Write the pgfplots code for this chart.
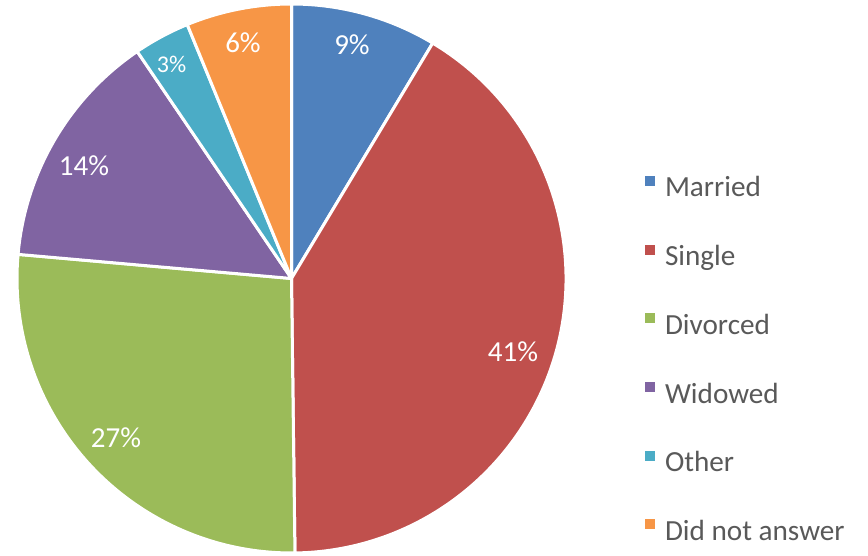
\documentclass[border=0pt]{standalone}
\usepackage{fontspec}
\setmainfont{Carlito}
\usepackage{pgfplots}
\usepackage{pgfplotstable}
\pgfplotsset{compat=1.18}
\definecolor{cMarried}{HTML}{4F81BD}
\definecolor{cSingle}{HTML}{C0504D}
\definecolor{cDivorced}{HTML}{9BBB59}
\definecolor{cWidowed}{HTML}{8064A2}
\definecolor{cOther}{HTML}{4BACC6}
\definecolor{cNoAnswer}{HTML}{F79646}
\definecolor{legtext}{HTML}{595959}
% value = share in percent, label = shown percent, lx/ly = label position
\pgfplotstableread{
name      value label lx    ly   lsize col
Married   8.6   9     352   511  14.5  cMarried
Single    41.2  41    513   204  14.5  cSingle
Divorced  26.6  27    116   118  14.5  cDivorced
Widowed   14.1  14    84    390  14.5  cWidowed
Other     3.3   3     171.5 492  12    cOther
NoAnswer  6.2   6     243   513  14.5  cNoAnswer
}\piedata
\begin{document}
\begin{tikzpicture}
\begin{axis}[
  hide axis, scale only axis, clip=false,
  x=0.5pt, y=0.5pt, xmin=0, xmax=868, ymin=0, ymax=556,
  legend style={at={(axis cs:645,380)}, anchor=north west, draw=none, fill=none,
    inner sep=0pt, outer sep=0pt, row sep=20.85pt,
    font=\fontsize{14.6pt}{17pt}\selectfont, text=legtext,
    nodes={text height=10pt, text depth=3pt, inner ysep=0pt, inner xsep=5pt}},
  legend cell align=left,
  legend image code/.code={\fill[#1, draw=none] (0pt,2pt) rectangle (5pt,7pt);},
]
\pgfplotsextra{
  \path (axis cs:0,0) rectangle (axis cs:868,556);
  \xdef\startangle{90}
  \pgfplotsforeachungrouped \i in {0,...,5} {
    \pgfplotstablegetelem{\i}{value}\of\piedata \let\val\pgfplotsretval
    \pgfplotstablegetelem{\i}{col}\of\piedata \let\col\pgfplotsretval
    \pgfmathsetmacro\endangle{\startangle - 3.6*\val}
    \fill[\col, draw=white, line width=1.5pt, line join=round]
      (axis cs:291.5,277.5) -- ++(\startangle:137.25pt)
      arc[start angle=\startangle, end angle=\endangle, radius=137.25pt] -- cycle;
    \xdef\startangle{\endangle}
  }
  \pgfplotsforeachungrouped \i in {0,...,5} {
    \pgfplotstablegetelem{\i}{label}\of\piedata \let\lab\pgfplotsretval
    \pgfplotstablegetelem{\i}{lx}\of\piedata \let\lx\pgfplotsretval
    \pgfplotstablegetelem{\i}{ly}\of\piedata \let\ly\pgfplotsretval
    \pgfplotstablegetelem{\i}{lsize}\of\piedata \let\ls\pgfplotsretval
    \node[text=white, font=\fontsize{\ls pt}{\ls pt}\selectfont, inner sep=0pt]
      at (axis cs:\lx,\ly) {\lab\%};
  }
}
\addlegendimage{fill=cMarried}\addlegendentry{Married}
\addlegendimage{fill=cSingle}\addlegendentry{Single}
\addlegendimage{fill=cDivorced}\addlegendentry{Divorced}
\addlegendimage{fill=cWidowed}\addlegendentry{Widowed}
\addlegendimage{fill=cOther}\addlegendentry{Other}
\addlegendimage{fill=cNoAnswer}\addlegendentry{Did not answer}
\end{axis}
\end{tikzpicture}
\end{document}
